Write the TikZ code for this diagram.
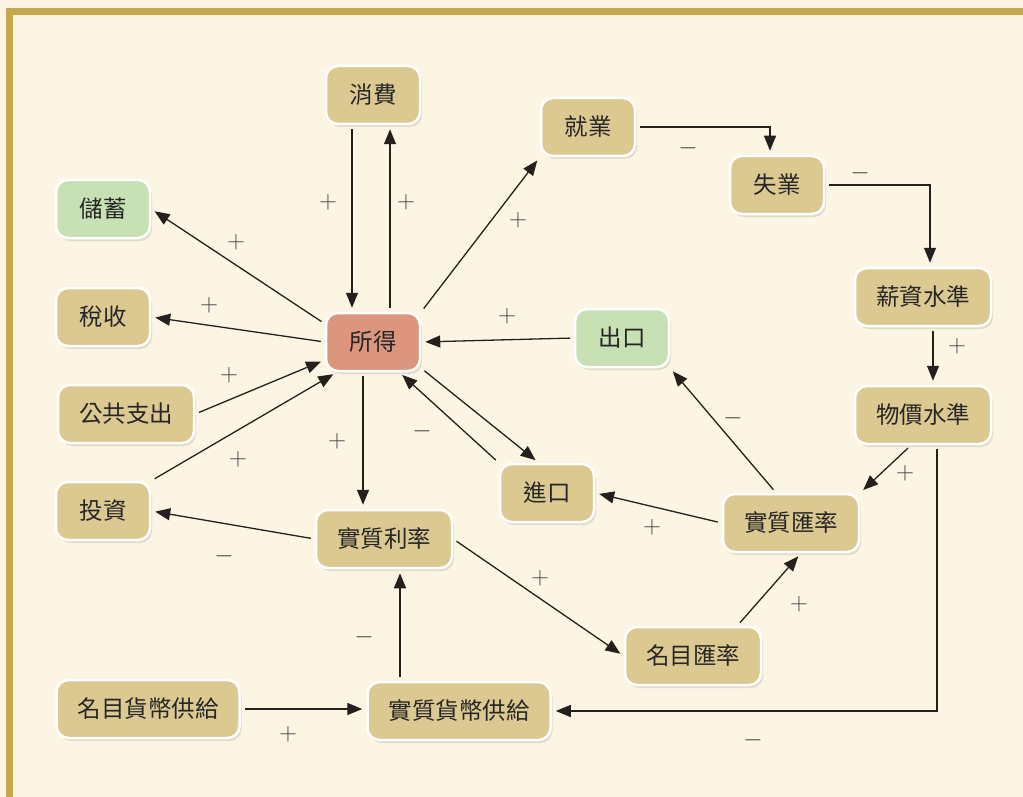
\documentclass[tikz,border=0pt]{standalone}
\usepackage{fontspec}
\newfontfamily\cjk{Noto Sans CJK TC}
\usetikzlibrary{arrows.meta,shadows}
\definecolor{myCream}{RGB}{253,245,227}
\definecolor{myGold}{RGB}{196,167,78}
\definecolor{myTan}{RGB}{220,201,145}
\definecolor{myGreen}{RGB}{199,224,180}
\definecolor{mySalmon}{RGB}{220,150,128}
\definecolor{myInk}{RGB}{35,32,30}

\tikzset{
  box/.style={draw=white, line width=2.5pt, fill=myTan, rounded corners=12pt,
    minimum width=94pt, minimum height=58pt, inner xsep=21pt,
    font=\cjk\fontsize{23.5}{27}\selectfont, text=black!85,
    drop shadow={opacity=0.22, shadow xshift=2pt, shadow yshift=-3pt}},
  gbox/.style={box, fill=myGreen},
  rbox/.style={box, fill=mySalmon},
  arr/.style={draw=myInk, line width=1.3pt, -{Triangle[length=15pt,width=12pt]},
    shorten >=4pt, shorten <=4pt},
  sgn/.style={text=black!75, font=\fontsize{23}{23}\selectfont, inner sep=0pt}
}

\begin{document}
\begin{tikzpicture}[x=1pt,y=-1pt]
% background and frame
\fill[myCream] (0,0) rectangle (1023,797);
\fill[myGold] (6,8) rectangle (1023,15);
\fill[myGold] (6,8) rectangle (13,797);
\useasboundingbox (0,0) rectangle (1023,797);

% nodes
\node[box]  (cons)  at (373,95)  {消費};
\node[box]  (emp)   at (588,127) {就業};
\node[box]  (unemp) at (777,185) {失業};
\node[gbox] (sav)   at (103,209) {儲蓄};
\node[box]  (tax)   at (103,317) {稅收};
\node[rbox] (inc)   at (373,342) {所得};
\node[gbox] (exp)   at (622,338) {出口};
\node[box]  (wage)  at (923,297) {薪資水準};
\node[box]  (price) at (923,415) {物價水準};
\node[box]  (gov)   at (126,414) {公共支出};
\node[box]  (inv)   at (103,511) {投資};
\node[box]  (rrate) at (384,539) {實質利率};
\node[box]  (imp)   at (547,493) {進口};
\node[box]  (rex)   at (791,523) {實質匯率};
\node[box]  (nex)   at (693,656) {名目匯率};
\node[box]  (nms)   at (148,709) {名目貨幣供給};
\node[box]  (rms)   at (459,711) {實質貨幣供給};

% connectors
\draw[arr] ([xshift=-21pt]cons.south) -- ([xshift=-21pt]cons.south |- inc.north);
\draw[arr] ([xshift=17pt]inc.north) -- ([xshift=17pt]inc.north |- cons.south);
\draw[arr] (inc.north east) -- (emp.south west);
\draw[arr] (emp.east) -| ([xshift=-7pt]unemp.north);
\draw[arr] (unemp.east) -| ([xshift=7pt]wage.north);
\draw[arr] ([xshift=10pt]wage.south) -- ([xshift=10pt]price.north);
\draw[arr] ([xshift=-12pt]price.south) -- (rex.north east);
\draw[arr] ([xshift=14pt]price.south) |- (rms.east);
\draw[arr] (nms.east) -- (rms.west |- nms.east);
\draw[arr] ([xshift=-59pt]rms.north) -- ([xshift=-59pt]rms.north |- rrate.south);
\draw[arr] (rrate.west) -- (inv.east);
\draw[arr] (rrate.east) -- (nex.west);
\draw[arr] ([xshift=-25pt]nex.north east) -- ([xshift=10pt]rex.south);
\draw[arr] ([xshift=-15pt]rex.north) -- (exp.south east);
\draw[arr] (rex.west) -- (imp.east);
\draw[arr] (imp.north west) -- ([xshift=-22pt]inc.south east);
\draw[arr] ([yshift=4pt]inc.south east) -- ([xshift=40pt]imp.north west);
\draw[arr] (exp.west) -- (inc.east);
\draw[arr] ([xshift=-10pt]inc.south) -- ([xshift=-10pt]inc.south |- rrate.north);
\draw[arr] ([yshift=-12pt]inc.north west) -- (sav.east);
\draw[arr] (inc.west) -- (tax.east);
\draw[arr] (gov.east) -- ([yshift=-18pt]inc.west);
\draw[arr] (inv.north east) -- ([xshift=12pt]inc.south west);

% signs
\foreach \x/\y/\s [count=\i] in {328/202/$+$, 406/202/$+$, 518/220/$+$, 688/148/$-$,
    860/173/$-$, 957/346/$+$, 905/473/$+$, 753/740/$-$, 288/734/$+$, 364/637/$-$,
    224/556/$-$, 540/578/$+$, 799/604/$+$, 733/418/$-$, 652/527/$+$, 422/431/$-$,
    507/316/$+$, 337/441/$+$, 236/242/$+$, 209/305/$+$, 229/375/$+$, 238/459/$+$}
  \node[sgn] (s\i) at (\x,\y) {\s};
\end{tikzpicture}
\end{document}
